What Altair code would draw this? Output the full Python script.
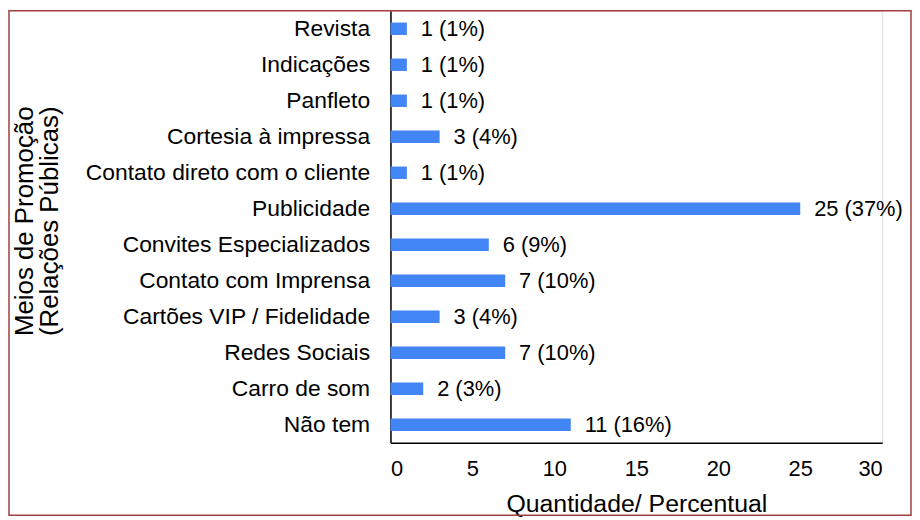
import altair as alt
import pandas as pd

categories = ["Revista", "Indicações", "Panfleto", "Cortesia à impressa",
              "Contato direto com o cliente", "Publicidade", "Convites Especializados",
              "Contato com Imprensa", "Cartões VIP / Fidelidade", "Redes Sociais",
              "Carro de som", "Não tem"]
counts = [1, 1, 1, 3, 1, 25, 6, 7, 3, 7, 2, 11]
percents = [1, 1, 1, 4, 1, 37, 9, 10, 4, 10, 3, 16]
x_ticks = [0, 5, 10, 15, 20, 25, 30]

df = pd.DataFrame({
    "cat": categories,
    "n": counts,
    "label": [f"{c} ({p}%)" for c, p in zip(counts, percents)],
})

FONT = "Liberation Sans"
FS = 22
LFS = 23
W, H = 495, 435
PAD = {"left": 385, "top": 1, "right": 30, "bottom": 74}

y_enc = alt.Y("cat:N", sort=categories,
              scale=alt.Scale(paddingInner=0.655, paddingOuter=0.33),
              axis=alt.Axis(title=["Meios de Promoção", "(Relações Públicas)"],
                            titleFontSize=26, titleFont=FONT, titleFontWeight="normal",
                            titleColor="black", titleX=-360, titleY=H / 2 - 6,
                            titleAngle=270, titleBaseline="alphabetic", titleAlign="center",
                            labelFont=FONT, labelFontSize=LFS, labelColor="black",
                            labelPadding=21, labelLimit=500, ticks=False, domainColor="black",
                            domainWidth=1.5, titleLineHeight=25))
x_enc = alt.X("n:Q", scale=alt.Scale(domain=[0, 30], nice=False),
              axis=alt.Axis(values=x_ticks, title="Quantidade/ Percentual",
                            titleFontSize=25, titleFont=FONT, titleFontWeight="normal",
                            titleColor="black", titleX=W / 2, titleY=69,
                            titleBaseline="alphabetic", titleAlign="center",
                            labelFont=FONT, labelFontSize=FS, labelColor="black",
                            labelPadding=16, ticks=False, grid=False,
                            domainColor="black", domainWidth=1.5))

bars = alt.Chart(df).mark_bar(color="#4285F4").encode(x=x_enc, y=y_enc)
text = alt.Chart(df).mark_text(align="left", dx=14, font=FONT, fontSize=FS,
                               color="black").encode(x="n:Q", y=alt.Y("cat:N", sort=categories),
                                                     text="label:N")
border = alt.Chart(pd.DataFrame({"a": [0]})).mark_rect(
    fill=None, stroke="#a0403f", strokeWidth=1.5, clip=False).encode(
    x=alt.value(-PAD["left"] + 1), x2=alt.value(W + PAD["right"] - 1),
    y=alt.value(-PAD["top"] + 1), y2=alt.value(H + PAD["bottom"] - 1))

chart = alt.layer(bars, text, border).properties(
    width=W, height=H, padding=PAD,
    autosize=alt.AutoSizeParams(type="none"),
).configure_view(stroke=None).configure(background="white")

chart.save("out.html", embed_options={"renderer": "svg", "actions": False})
